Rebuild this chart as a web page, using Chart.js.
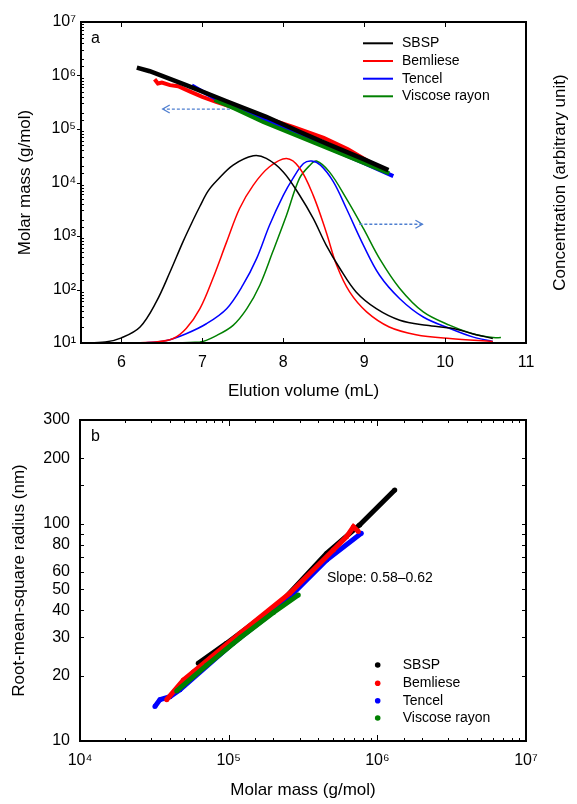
<!DOCTYPE html>
<html>
<head>
<meta charset="utf-8">
<script src="https://cdn.jsdelivr.net/npm/chart.js@4.4.1/dist/chart.umd.min.js"></script>
<style>
  body { margin: 0; background: #fff; }
  canvas { display: block; }
</style>
</head>
<body>
<canvas id="topChart" width="577" height="400"></canvas>
<canvas id="bottomChart" width="577" height="404"></canvas>
<script>
// ---- data ----
const seriesNames = ['SBSP', 'Bemliese', 'Tencel', 'Viscose rayon'];
const seriesColors = ['#000000', '#ff0000', '#0000ff', '#008000'];

// (a) molar mass vs elution volume
const sbspMassX = [6.19, 6.35, 6.80, 7.30, 7.79, 8.20, 8.53, 9.00, 9.30];
const sbspMassY = [1.40e6, 1.2e6, 6.6e5, 3.3e5, 1.69e5, 8.9e4, 5.4e4, 2.7e4, 1.7e4];
const bemlieseMassX = [6.41, 6.45, 6.50, 6.60, 6.70, 6.85, 7.00, 7.17, 7.50, 7.80, 8.12, 8.50, 8.80, 9.07];
const bemlieseMassY = [8.5e5, 7.1e5, 7.4e5, 6.6e5, 6.3e5, 5.0e5, 4.0e5, 3.2e5, 2.2e5, 1.58e5, 1.1e5, 6.8e4, 4.2e4, 2.4e4];
const tencelMassX = [6.87, 7.00, 7.17, 7.50, 8.00, 8.50, 9.00, 9.36];
const tencelMassY = [6.5e5, 5.0e5, 3.7e5, 2.2e5, 1.05e5, 4.9e4, 2.3e4, 1.32e4];
const viscoseMassX = [7.15, 7.40, 7.75, 8.00, 8.50, 9.00, 9.31];
const viscoseMassY = [3.5e5, 2.4e5, 1.36e5, 9.5e4, 4.7e4, 2.3e4, 1.48e4];

// (a) concentration (arbitrary unit, 0-100)
const sbspConcX = [5.5, 5.8, 6.0, 6.23, 6.43, 6.60, 6.76, 6.88, 6.97, 7.07, 7.18, 7.38, 7.63, 7.79, 8.0, 8.20, 8.37, 8.53, 8.70, 8.90, 9.15, 9.44, 9.77, 10.1, 10.34, 10.59];
const sbspConcY = [0, 0.3, 1.6, 5.0, 12.8, 22.1, 31.5, 38.0, 42.6, 47.3, 50.6, 55.4, 58.3, 57.5, 53.3, 46.1, 38.8, 30.5, 23.2, 15.9, 10.7, 7.1, 5.5, 4.5, 2.9, 1.4];
const bemlieseConcX = [6.0, 6.42, 6.64, 6.80, 6.97, 7.13, 7.30, 7.46, 7.63, 7.83, 8.04, 8.20, 8.37, 8.53, 8.66, 8.82, 9.03, 9.31, 9.64, 10.06, 10.59];
const bemlieseConcY = [0, 0.3, 1.4, 4.5, 10.7, 20.1, 31.5, 41.9, 49.2, 54.9, 57.5, 54.6, 46.0, 34.6, 24.2, 15.9, 9.7, 5.0, 2.6, 1.4, 0.5];
const tencelConcX = [6.0, 6.3, 6.56, 6.80, 7.05, 7.30, 7.50, 7.67, 7.83, 8.0, 8.12, 8.25, 8.35, 8.46, 8.62, 8.78, 8.99, 9.19, 9.44, 9.73, 10.06, 10.34, 10.59];
const tencelConcY = [0, 0.1, 0.8, 2.9, 6.0, 10.7, 18.0, 26.3, 36.7, 46.0, 51.3, 55.9, 56.7, 55.4, 50.2, 41.9, 30.5, 21.1, 13.8, 8.1, 4.5, 1.9, 0.5];
const viscoseConcX = [6.5, 6.97, 7.18, 7.38, 7.55, 7.71, 7.87, 8.04, 8.20, 8.33, 8.41, 8.57, 8.78, 8.99, 9.19, 9.44, 9.73, 10.06, 10.34, 10.59, 10.69];
const viscoseConcY = [0, 0.3, 2.4, 5.5, 10.7, 18.0, 28.4, 39.8, 51.3, 55.4, 56.7, 53.3, 45.0, 35.7, 26.3, 17.0, 9.7, 5.5, 2.9, 1.7, 1.7];

// (b) rms radius vs molar mass
const sbspRgM = [6.24e4, 9.7e4, 2.21e5, 4.56e5, 7.6e5, 1.31e6];
const sbspRgR = [22.8, 28.2, 43, 73, 98.6, 143];
const bemlieseRgM = [3.83e4, 4.96e4, 5.78e4, 1.19e5, 2.58e5, 5.06e5, 6.2e5, 6.9e5, 7.45e5];
const bemlieseRgR = [15.5, 19.1, 20.8, 31.3, 47.9, 75.7, 87, 96.8, 92];
const tencelRgM = [3.19e4, 3.45e4, 4.03e4, 4.7e4, 1.07e5, 2.21e5, 4.56e5, 7.8e5];
const tencelRgR = [14.4, 15.5, 16.0, 17.2, 28.2, 41.5, 68, 90.3];
const viscoseRgM = [4.47e4, 7.1e4, 1.19e5, 2.0e5, 2.94e5];
const viscoseRgR = [17.0, 22.3, 29.8, 39, 47];

// ticks
const elutionTicks = [6, 7, 8, 9, 10, 11];
const radiusLabels = [10, 20, 30, 40, 50, 60, 80, 100, 200, 300];

// ---- helpers ----
const FONT = '"Liberation Sans", Arial, sans-serif';
const SUP = { '0': '⁰', '1': '¹', '2': '²', '3': '³', '4': '⁴', '5': '⁵', '6': '⁶', '7': '⁷', '8': '⁸', '9': '⁹' };
const isDecade = v => Math.abs(Math.log10(v) - Math.round(Math.log10(v))) < 1e-9;
const pow10Label = v => '10' + String(Math.round(Math.log10(v))).split('').map(d => SUP[d]).join('');
const pts = (xs, ys) => xs.map((x, i) => ({ x: x, y: ys[i] }));

Chart.defaults.font.family = FONT;
Chart.defaults.color = '#000';
Chart.defaults.animation = false;

function drawTickMarks(chart, specs) {
  const { ctx, chartArea: a } = chart;
  ctx.save();
  ctx.strokeStyle = '#000';
  ctx.lineWidth = 1;
  specs.forEach(sp => {
    const s = chart.scales[sp.scale];
    s.ticks.forEach(t => {
      const len = sp.len(t.value);
      if (!len) return;
      const p = s.getPixelForValue(t.value);
      ctx.beginPath();
      if (s.isHorizontal()) {
        if (p <= a.left + 1 || p >= a.right - 1) return;
        const x = Math.round(p) + 0.5;
        sp.sides.forEach(side => {
          const y0 = side === 'bottom' ? a.bottom : a.top;
          const d = side === 'bottom' ? -1 : 1;
          ctx.moveTo(x, y0);
          ctx.lineTo(x, y0 + d * len);
        });
      } else {
        if (p <= a.top + 1 || p >= a.bottom - 1) return;
        const y = Math.round(p) + 0.5;
        sp.sides.forEach(side => {
          const x0 = side === 'left' ? a.left : a.right;
          const d = side === 'left' ? 1 : -1;
          ctx.moveTo(x0, y);
          ctx.lineTo(x0 + d * len, y);
        });
      }
      ctx.stroke();
    });
  });
  ctx.lineWidth = 2;
  ctx.strokeRect(a.left, a.top, a.right - a.left, a.bottom - a.top);
  ctx.restore();
}

function dashedArrow(ctx, x1, y1, x2, y2) {
  ctx.save();
  ctx.strokeStyle = '#4f7fd0';
  ctx.lineWidth = 1.3;
  ctx.setLineDash([3, 2]);
  ctx.beginPath();
  ctx.moveTo(x1, y1);
  ctx.lineTo(x2, y2);
  ctx.stroke();
  ctx.setLineDash([]);
  const d = Math.sign(x2 - x1);
  ctx.beginPath();
  ctx.moveTo(x2 - d * 7, y2 - 4);
  ctx.lineTo(x2, y2);
  ctx.lineTo(x2 - d * 7, y2 + 4);
  ctx.stroke();
  ctx.restore();
}

function drawLegend(ctx, kind, xMark, xText, yRows) {
  ctx.save();
  ctx.font = '14px ' + FONT;
  ctx.textBaseline = 'middle';
  seriesNames.forEach((name, i) => {
    const y = yRows[i];
    ctx.strokeStyle = seriesColors[i];
    ctx.fillStyle = seriesColors[i];
    if (kind === 'line') {
      ctx.lineWidth = 2;
      ctx.beginPath();
      ctx.moveTo(xMark, y);
      ctx.lineTo(xMark + 30, y);
      ctx.stroke();
    } else {
      ctx.beginPath();
      ctx.arc(xMark, y, 2.8, 0, Math.PI * 2);
      ctx.fill();
    }
    ctx.fillStyle = '#000';
    ctx.fillText(name, xText, y);
  });
  ctx.restore();
}

// ---- (a) ----  (Chart.js paints dataset 0 on top)
const massSets = [
  [sbspMassX, sbspMassY, 0],
  [viscoseMassX, viscoseMassY, 3],
  [tencelMassX, tencelMassY, 2],
  [bemlieseMassX, bemlieseMassY, 1]
].map(([xs, ys, c]) => ({
  data: pts(xs, ys), yAxisID: 'y', borderColor: seriesColors[c],
  borderWidth: c === 0 ? 4.5 : 4, pointRadius: 0, tension: 0
}));
const concSets = [
  [sbspConcX, sbspConcY, 0],
  [bemlieseConcX, bemlieseConcY, 1],
  [tencelConcX, tencelConcY, 2],
  [viscoseConcX, viscoseConcY, 3]
].map(([xs, ys, c]) => ({
  data: pts(xs, ys), yAxisID: 'y2', borderColor: seriesColors[c],
  borderWidth: 1.5, pointRadius: 0, tension: 0.35
}));

new Chart(document.getElementById('topChart'), {
  type: 'line',
  data: { datasets: massSets.concat(concSets) },
  options: {
    responsive: false,
    layout: { padding: { top: 22, right: 51, left: 0, bottom: 0 } },
    plugins: { legend: { display: false }, tooltip: { enabled: false } },
    scales: {
      x: {
        type: 'linear', min: 5.5, max: 11,
        afterBuildTicks: s => { s.ticks = elutionTicks.map(v => ({ value: v })); },
        afterFit: s => { s.height = 57; },
        grid: { display: false, drawTicks: false }, border: { display: false },
        ticks: { padding: 10, font: { size: 16 } },
        title: { display: true, text: 'Elution volume (mL)', font: { size: 17, lineHeight: 1 }, padding: 0 }
      },
      y: {
        type: 'logarithmic', min: 10, max: 1e7, position: 'left',
        afterFit: s => { s.width = 81; },
        grid: { display: false, drawTicks: false }, border: { display: false },
        ticks: { autoSkip: false, padding: 5, font: { size: 16 }, callback: v => isDecade(v) ? pow10Label(v) : '' },
        title: { display: true, text: 'Molar mass (g/mol)', font: { size: 17, lineHeight: 1 }, padding: { top: 17, bottom: 0 } }
      },
      y2: { type: 'linear', min: 0, max: 100, display: false }
    }
  },
  plugins: [{
    id: 'decorA',
    afterDraw(chart) {
      const { ctx, scales } = chart;
      drawTickMarks(chart, [
        { scale: 'x', sides: ['bottom', 'top'], len: () => 5 },
        { scale: 'y', sides: ['left'], len: v => isDecade(v) ? -4 : 3 }
      ]);
      dashedArrow(ctx, scales.x.getPixelForValue(7.34), scales.y.getPixelForValue(2.36e5),
        scales.x.getPixelForValue(6.51), scales.y.getPixelForValue(2.36e5));
      dashedArrow(ctx, scales.x.getPixelForValue(8.94), scales.y2.getPixelForValue(37),
        scales.x.getPixelForValue(9.72), scales.y2.getPixelForValue(37));
      drawLegend(ctx, 'line', 363, 402, [43.3, 61, 78.7, 96.3]);
      ctx.save();
      ctx.fillStyle = '#000';
      ctx.font = '16px ' + FONT;
      ctx.textBaseline = 'middle';
      ctx.fillText('a', 91, 39);
      ctx.font = '17px ' + FONT;
      ctx.translate(560, (chart.chartArea.top + chart.chartArea.bottom) / 2);
      ctx.rotate(-Math.PI / 2);
      ctx.textAlign = 'center';
      ctx.fillText('Concentration (arbitrary unit)', 0, 0);
      ctx.restore();
    }
  }]
});

// ---- (b) ----
const rgSets = [
  [viscoseRgM, viscoseRgR, 3],
  [bemlieseRgM, bemlieseRgR, 1],
  [tencelRgM, tencelRgR, 2],
  [sbspRgM, sbspRgR, 0]
].map(([xs, ys, c]) => ({
  data: pts(xs, ys), showLine: true, borderColor: seriesColors[c], backgroundColor: seriesColors[c],
  borderWidth: 5, pointRadius: 2.5, pointBorderWidth: 0
}));

new Chart(document.getElementById('bottomChart'), {
  type: 'scatter',
  data: { datasets: rgSets },
  options: {
    responsive: false,
    layout: { padding: { top: 20, right: 51, left: 0, bottom: 0 } },
    plugins: { legend: { display: false }, tooltip: { enabled: false } },
    scales: {
      x: {
        type: 'logarithmic', min: 1e4, max: 1e7,
        afterFit: s => { s.height = 63; },
        grid: { display: false, drawTicks: false }, border: { display: false },
        ticks: { autoSkip: false, maxRotation: 0, padding: 10, font: { size: 16 }, callback: v => isDecade(v) ? pow10Label(v) : '' },
        title: { display: true, text: 'Molar mass (g/mol)', font: { size: 17, lineHeight: 1 }, padding: { top: 0, bottom: 5 } }
      },
      y: {
        type: 'logarithmic', min: 10, max: 300,
        afterFit: s => { s.width = 80; },
        grid: { display: false, drawTicks: false }, border: { display: false },
        ticks: { autoSkip: false, padding: 10, font: { size: 16 }, callback: v => radiusLabels.includes(Math.round(v)) ? String(Math.round(v)) : '' },
        title: { display: true, text: 'Root-mean-square radius (nm)', font: { size: 17, lineHeight: 1 }, padding: { top: 11, bottom: 0 } }
      }
    }
  },
  plugins: [{
    id: 'decorB',
    afterDraw(chart) {
      const { ctx, scales } = chart;
      drawTickMarks(chart, [
        { scale: 'x', sides: ['bottom', 'top'], len: v => isDecade(v) ? 6 : 3 },
        { scale: 'y', sides: ['left', 'right'], len: () => 4 }
      ]);
      drawLegend(ctx, 'dot', 377.7, 402.7, [265, 283.3, 300.7, 318]);
      ctx.save();
      ctx.fillStyle = '#000';
      ctx.textBaseline = 'middle';
      ctx.font = '14px ' + FONT;
      ctx.fillText('Slope: 0.58–0.62', scales.x.getPixelForValue(4.58e5), scales.y.getPixelForValue(56));
      ctx.font = '16px ' + FONT;
      ctx.fillText('b', 91, 37);
      ctx.restore();
    }
  }]
});
</script>
</body>
</html>
